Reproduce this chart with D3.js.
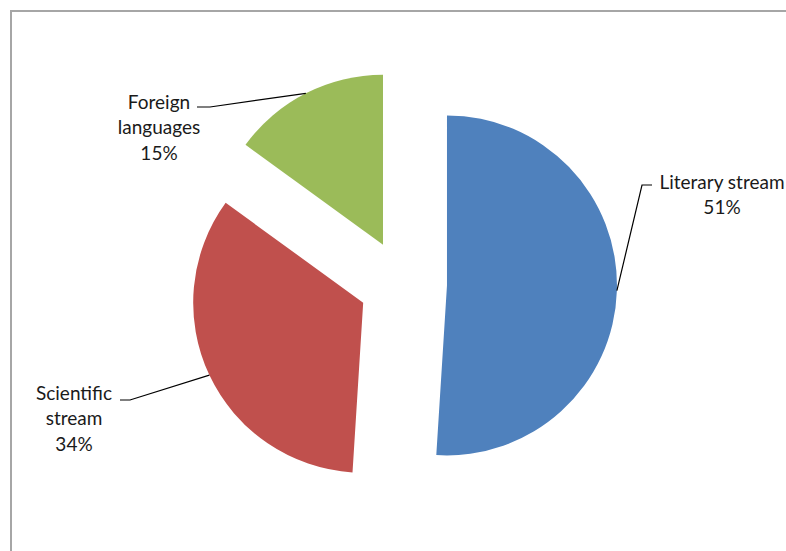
<!DOCTYPE html>
<html>
<head>
<meta charset="utf-8">
<script src="https://cdn.jsdelivr.net/npm/d3@7"></script>
<style>
  html, body { margin: 0; padding: 0; background: #fff; }
  svg { display: block; }
  text { font-family: Lato, "Open Sans", sans-serif; font-size: 19px; fill: #1a1a1a; }
</style>
</head>
<body>
<svg id="chart" width="786" height="551"></svg>
<script>
// Share of students by stream
const categories = ["Literary stream", "Scientific stream", "Foreign languages"];
const values = [51, 34, 15];
const colors = ["#4F81BD", "#C0504D", "#9BBB59"];
// Label lines as they are wrapped on the chart
const labelLines = [["Literary stream", "51%"], ["Scientific", "stream", "34%"], ["Foreign", "languages", "15%"]];

const W = 786, H = 551;
const svg = d3.select("#chart");

// Plot frame (top and left edges visible)
svg.append("path")
  .attr("d", "M11,551 L11,11 L786,11")
  .attr("fill", "none")
  .attr("stroke", "#a6a6a6")
  .attr("stroke-width", 2);

const cx = 403, cy = 284, radius = 170, explode = 44;

const pie = d3.pie().sort(null).value(d => d).startAngle(0).endAngle(2 * Math.PI);
const arcs = pie(values);
const arc = d3.arc().innerRadius(0).outerRadius(radius);

const g = svg.append("g").attr("transform", `translate(${cx},${cy})`);

function offset(a) {
  const m = (a.startAngle + a.endAngle) / 2;
  return [Math.sin(m) * explode, -Math.cos(m) * explode];
}

g.selectAll("path.slice")
  .data(arcs)
  .join("path")
  .attr("class", "slice")
  .attr("d", arc)
  .attr("fill", (d, i) => colors[i])
  .attr("transform", d => { const o = offset(d); return `translate(${o[0]},${o[1]})`; });

// Label placement: anchor point of the leader line next to the text, and text centre
const labelPos = [
  { elbow: [[652, 185], [642, 185]], x: 722, y: 182 },
  { elbow: [[120, 400], [130, 400]], x: 74, y: 393 },
  { elbow: [[197, 107], [210, 107]], x: 159, y: 102 }
];
const lineGap = 25.5;

arcs.forEach((a, i) => {
  const m = (a.startAngle + a.endAngle) / 2;
  const o = offset(a);
  const px = cx + o[0] + Math.sin(m) * radius;
  const py = cy + o[1] - Math.cos(m) * radius;
  const lp = labelPos[i];
  svg.append("polyline")
    .attr("points", [...lp.elbow, [px, py]].map(p => p.join(",")).join(" "))
    .attr("fill", "none")
    .attr("stroke", "#000")
    .attr("stroke-width", 1.2);
  const t = svg.append("text")
    .attr("text-anchor", "middle");
  labelLines[i].forEach((ln, k) => {
    t.append("tspan")
      .attr("x", lp.x)
      .attr("y", lp.y + k * lineGap)
      .attr("dy", "0.35em")
      .text(ln);
  });
});
</script>
</body>
</html>
